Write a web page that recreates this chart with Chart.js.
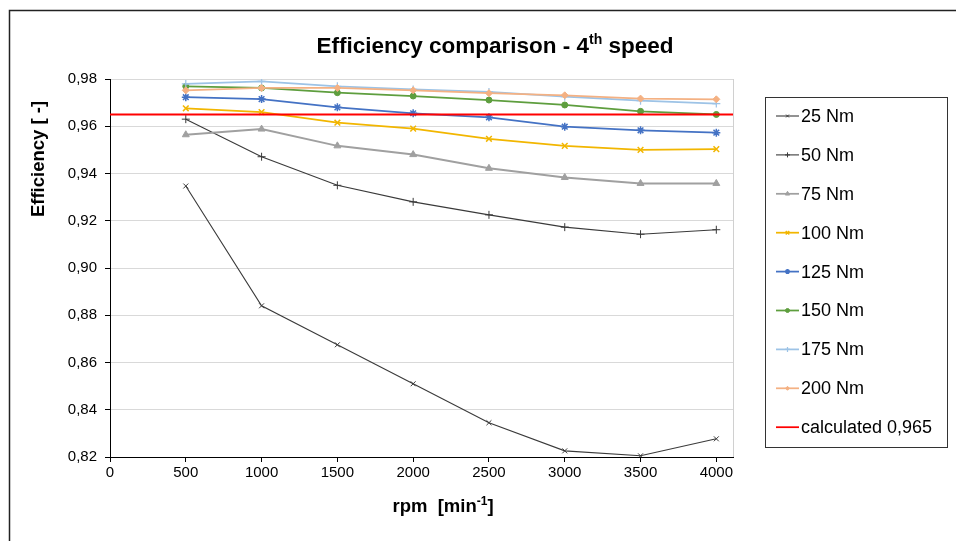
<!DOCTYPE html>
<html>
<head>
<meta charset="utf-8">
<title>Efficiency comparison - 4th speed</title>
<script src="https://cdn.jsdelivr.net/npm/chart.js@4/dist/chart.umd.min.js"></script>
<style>
  html, body { margin: 0; padding: 0; background: #fff; }
  #wrap { width: 956px; height: 541px; position: relative; }
</style>
</head>
<body>
<div id="wrap"><canvas id="effChart"></canvas></div>
<script>
// speed points (rpm) and measured efficiency per load torque
const rpm = [500, 1000, 1500, 2000, 2500, 3000, 3500, 4000];
const eff25 = [0.9347, 0.8840, 0.8675, 0.8510, 0.8345, 0.8226, 0.8205, 0.8277];
const eff50 = [0.9630, 0.9471, 0.9350, 0.9280, 0.9225, 0.9173, 0.9143, 0.9162];
const eff75 = [0.9564, 0.9588, 0.9517, 0.9480, 0.9422, 0.9383, 0.9358, 0.9358];
const eff100 = [0.9676, 0.9660, 0.9615, 0.9590, 0.9547, 0.9517, 0.9500, 0.9503];
const eff125 = [0.9723, 0.9715, 0.9680, 0.9655, 0.9638, 0.9598, 0.9583, 0.9573];
const eff150 = [0.9769, 0.9762, 0.9742, 0.9728, 0.9711, 0.9690, 0.9663, 0.9650];
const eff175 = [0.9779, 0.9790, 0.9769, 0.9756, 0.9745, 0.9725, 0.9708, 0.9696];
const eff200 = [0.9752, 0.9762, 0.9762, 0.9752, 0.9740, 0.9731, 0.9717, 0.9714];
const calculated = 0.965;

const xTicks = [0, 500, 1000, 1500, 2000, 2500, 3000, 3500, 4000];
const X_MAX = 4110;
const Y_MIN = 0.82, Y_MAX = 0.98, Y_STEP = 0.02;

const FONT = "'Liberation Sans', Arial, sans-serif";

function pts(values) {
  return values.map((v, i) => ({ x: rpm[i], y: v }));
}

function series(label, values, color, style, radius, lineW, markW) {
  return {
    label: label,
    data: pts(values),
    borderColor: color,
    backgroundColor: color,
    borderWidth: lineW,
    pointStyle: style,
    pointRadius: radius,
    pointBorderWidth: markW,
    pointBorderColor: color,
    pointBackgroundColor: color,
    tension: 0,
    fill: false
  };
}

const datasets = [
  series('25 Nm', eff25, '#3A3A3A', 'crossRot', 3.5, 1.1, 1),
  series('50 Nm', eff50, '#3A3A3A', 'cross', 4, 1.1, 1),
  series('75 Nm', eff75, '#A0A0A0', 'triangle', 4, 2, 1),
  series('100 Nm', eff100, '#F2B600', 'crossRot', 4, 1.75, 1.5),
  series('125 Nm', eff125, '#4472C4', 'star', 4, 1.75, 1.5),
  series('150 Nm', eff150, '#5E9E3E', 'circle', 3, 1.75, 1),
  series('175 Nm', eff175, '#9DC3E6', 'cross', 4, 1.75, 1.25),
  series('200 Nm', eff200, '#F4B183', 'rectRot', 3.5, 1.75, 1),
  {
    label: 'calculated 0,965',
    data: [{ x: 0, y: calculated }, { x: X_MAX, y: calculated }],
    borderColor: '#FF0000',
    backgroundColor: '#FF0000',
    borderWidth: 2,
    pointRadius: 0,
    pointStyle: false,
    fill: false
  }
];
// later series on top, like the spreadsheet
datasets.forEach((d, i) => { d.order = datasets.length - i; });

// title, axis titles (with superscripts), frame and legend
const decorations = {
  id: 'decorations',
  afterDraw(chart) {
    const ctx = chart.ctx;
    const area = chart.chartArea;
    ctx.save();

    // outer frame
    ctx.strokeStyle = '#222';
    ctx.lineWidth = 1.5;
    ctx.strokeRect(9.5, 10.5, 1000, 600);

    // right border of plot area
    ctx.strokeStyle = '#D0D0D0';
    ctx.lineWidth = 1;
    ctx.beginPath();
    ctx.moveTo(area.right + 0.5, area.top);
    ctx.lineTo(area.right + 0.5, area.bottom);
    ctx.stroke();

    ctx.fillStyle = '#000';
    ctx.textBaseline = 'alphabetic';

    // main title
    drawSup(ctx, [['Efficiency comparison - 4', false], ['th', true], [' speed', false]],
      495, 53, 'bold 22.5px ' + FONT, 'bold 14px ' + FONT, 9);

    // x axis title
    drawSup(ctx, [['rpm  [min', false], ['-1', true], [']', false]],
      443, 512, 'bold 18.5px ' + FONT, 'bold 12px ' + FONT, 7);

    // y axis title
    ctx.save();
    ctx.translate(44, 159);
    ctx.rotate(-Math.PI / 2);
    ctx.font = 'bold 18.5px ' + FONT;
    ctx.textAlign = 'center';
    ctx.fillText('Efficiency [ -]', 0, 0);
    ctx.restore();

    // legend
    const lx = 765, ly = 97, lw = 182, lh = 350;
    ctx.strokeStyle = '#333';
    ctx.lineWidth = 1;
    ctx.strokeRect(lx + 0.5, ly + 0.5, lw, lh);
    ctx.font = '18px ' + FONT;
    ctx.textAlign = 'left';
    ctx.textBaseline = 'middle';
    chart.data.datasets.forEach((d, i) => {
      const cy = 116 + i * 38.9;
      ctx.strokeStyle = d.borderColor;
      ctx.lineWidth = Math.min(d.borderWidth, 1.75);
      ctx.beginPath();
      ctx.moveTo(776, cy);
      ctx.lineTo(799, cy);
      ctx.stroke();
      if (d.pointRadius > 0) {
        ctx.fillStyle = d.pointBackgroundColor;
        ctx.strokeStyle = d.pointBorderColor;
        ctx.lineWidth = d.pointBorderWidth;
        Chart.helpers.drawPoint(ctx, {
          pointStyle: d.pointStyle,
          radius: Math.max(2, d.pointRadius - 1.5),
          rotation: 0,
          borderWidth: d.pointBorderWidth
        }, 787.5, cy);
      }
      ctx.fillStyle = '#000';
      ctx.fillText(d.label, 801, cy + 1);
    });

    ctx.restore();
  }
};

// text runs with raised small parts, centred on cx
function drawSup(ctx, parts, cx, baseY, font, supFont, rise) {
  let total = 0;
  parts.forEach(p => {
    ctx.font = p[1] ? supFont : font;
    total += ctx.measureText(p[0]).width;
  });
  let x = cx - total / 2;
  ctx.textAlign = 'left';
  parts.forEach(p => {
    ctx.font = p[1] ? supFont : font;
    ctx.fillText(p[0], x, p[1] ? baseY - rise : baseY);
    x += ctx.measureText(p[0]).width;
  });
}

const ctx = document.getElementById('effChart').getContext('2d');
new Chart(ctx, {
  type: 'line',
  data: { datasets: datasets },
  options: {
    responsive: true,
    maintainAspectRatio: false,
    animation: false,
    layout: { padding: { top: 79, right: 223, bottom: 0, left: 0 } },
    plugins: {
      legend: { display: false },
      title: { display: false },
      tooltip: { enabled: false }
    },
    scales: {
      x: {
        type: 'linear',
        min: 0,
        max: X_MAX,
        afterBuildTicks: s => { s.ticks = xTicks.map(v => ({ value: v })); },
        afterFit: s => { s.height = 84; },
        grid: { drawOnChartArea: false, drawTicks: true, tickLength: 5, tickColor: '#000' },
        border: { color: '#000', width: 1 },
        ticks: {
          color: '#000',
          font: { family: FONT, size: 15 },
          padding: 2,
          maxRotation: 0,
          callback: v => String(v)
        }
      },
      y: {
        min: Y_MIN,
        max: Y_MAX,
        afterFit: s => { s.width = 110; },
        grid: { color: '#D9D9D9', lineWidth: 1, tickLength: 5, tickColor: '#000' },
        border: { color: '#000', width: 1 },
        ticks: {
          stepSize: Y_STEP,
          color: '#000',
          font: { family: FONT, size: 15 },
          padding: 8,
          callback: v => v.toFixed(2).replace('.', ',')
        }
      }
    }
  },
  plugins: [decorations]
});
</script>
</body>
</html>
